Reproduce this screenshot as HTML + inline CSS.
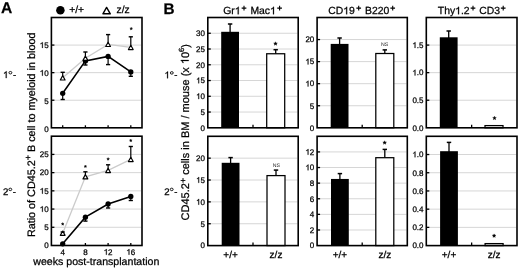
<!DOCTYPE html>
<html><head><meta charset="utf-8"><style>
html,body{margin:0;padding:0;background:#fff;}
svg{display:block;will-change:transform;}
text{font-family:"Liberation Sans", sans-serif;fill:#000;text-rendering:geometricPrecision;stroke:#000;stroke-width:0.25px;}
.one{fill:none;stroke:none;}
</style></head><body>
<svg width="520" height="268" viewBox="0 0 520 268" font-family='"Liberation Sans", sans-serif'>
<rect width="520" height="268" fill="#fff"/>
<text x="1.0" y="12.9" font-size="15.6" font-weight="bold">A</text>
<text x="163.4" y="13.8" font-size="15.3" font-weight="bold">B</text>
<circle cx="60.4" cy="10.2" r="4.25" fill="#000"/>
<text x="69.2" y="12.6" font-size="10.3">+/+</text>
<path d="M106.6 7.40 L110.30 13.80 L102.90 13.80 Z" fill="#fff" stroke="#000" stroke-width="1.4" stroke-linejoin="round"/>
<text x="116.6" y="12.6" font-size="10.3">z/z</text>
<text x="48.6" y="131.60" font-size="8" text-anchor="end">0</text>
<line x1="52.199999999999996" y1="100.22" x2="141.2" y2="100.22" stroke="#d6d6d6" stroke-width="1"/>
<line x1="51.4" y1="100.22" x2="54.4" y2="100.22" stroke="#000" stroke-width="1.3"/>
<text x="48.6" y="103.52" font-size="8" text-anchor="end">5</text>
<line x1="52.199999999999996" y1="72.65" x2="141.2" y2="72.65" stroke="#d6d6d6" stroke-width="1"/>
<line x1="51.4" y1="72.65" x2="54.4" y2="72.65" stroke="#000" stroke-width="1.3"/>
<text x="48.6" y="75.65" font-size="8" text-anchor="end"><tspan class="one">1</tspan>0</text>
<line x1="52.199999999999996" y1="45.08" x2="141.2" y2="45.08" stroke="#d6d6d6" stroke-width="1"/>
<line x1="51.4" y1="45.08" x2="54.4" y2="45.08" stroke="#000" stroke-width="1.3"/>
<text x="48.6" y="47.88" font-size="8" text-anchor="end"><tspan class="one">1</tspan>5</text>
<line x1="62.7" y1="127.8" x2="62.7" y2="125.3" stroke="#000" stroke-width="1.3"/>
<line x1="85.4" y1="127.8" x2="85.4" y2="125.3" stroke="#000" stroke-width="1.3"/>
<line x1="108.1" y1="127.8" x2="108.1" y2="125.3" stroke="#000" stroke-width="1.3"/>
<line x1="130.8" y1="127.8" x2="130.8" y2="125.3" stroke="#000" stroke-width="1.3"/>
<polyline points="62.7,77.8 85.4,58.2 108.1,44.35 130.8,47.4" fill="none" stroke="#cbcbcb" stroke-width="1.3"/>
<polyline points="62.7,93.3 85.4,60.9 108.1,56.4 130.8,71.9" fill="none" stroke="#000" stroke-width="1.55"/>
<line x1="62.7" y1="93.3" x2="62.7" y2="99.5" stroke="#000" stroke-width="1.2"/>
<line x1="60.6" y1="99.5" x2="64.8" y2="99.5" stroke="#000" stroke-width="1.4"/>
<line x1="85.4" y1="60.9" x2="85.4" y2="65.0" stroke="#000" stroke-width="1.2"/>
<line x1="83.30000000000001" y1="65.0" x2="87.5" y2="65.0" stroke="#000" stroke-width="1.4"/>
<line x1="108.1" y1="56.4" x2="108.1" y2="64.6" stroke="#000" stroke-width="1.2"/>
<line x1="106.0" y1="64.6" x2="110.19999999999999" y2="64.6" stroke="#000" stroke-width="1.4"/>
<line x1="130.8" y1="71.9" x2="130.8" y2="76.3" stroke="#000" stroke-width="1.2"/>
<line x1="128.70000000000002" y1="76.3" x2="132.9" y2="76.3" stroke="#000" stroke-width="1.4"/>
<line x1="62.7" y1="77.8" x2="62.7" y2="72.3" stroke="#000" stroke-width="1.2"/>
<line x1="60.6" y1="72.3" x2="64.8" y2="72.3" stroke="#000" stroke-width="1.4"/>
<line x1="85.4" y1="58.2" x2="85.4" y2="52.0" stroke="#000" stroke-width="1.2"/>
<line x1="83.30000000000001" y1="52.0" x2="87.5" y2="52.0" stroke="#000" stroke-width="1.4"/>
<line x1="108.1" y1="44.35" x2="108.1" y2="34.6" stroke="#000" stroke-width="1.2"/>
<line x1="106.0" y1="34.6" x2="110.19999999999999" y2="34.6" stroke="#000" stroke-width="1.4"/>
<line x1="130.8" y1="47.4" x2="130.8" y2="36.8" stroke="#000" stroke-width="1.2"/>
<line x1="128.70000000000002" y1="36.8" x2="132.9" y2="36.8" stroke="#000" stroke-width="1.4"/>
<circle cx="62.7" cy="93.3" r="2.65" fill="#000"/>
<circle cx="85.4" cy="60.9" r="2.65" fill="#000"/>
<circle cx="108.1" cy="56.4" r="2.65" fill="#000"/>
<circle cx="130.8" cy="71.9" r="2.65" fill="#000"/>
<path d="M62.7 75.65 L65.10 79.95 L60.30 79.95 Z" fill="#fff" stroke="#000" stroke-width="1.15" stroke-linejoin="round"/>
<path d="M85.4 56.05 L87.80 60.35 L83.00 60.35 Z" fill="#fff" stroke="#000" stroke-width="1.15" stroke-linejoin="round"/>
<path d="M108.1 42.20 L110.50 46.50 L105.70 46.50 Z" fill="#fff" stroke="#000" stroke-width="1.15" stroke-linejoin="round"/>
<path d="M130.8 45.25 L133.20 49.55 L128.40 49.55 Z" fill="#fff" stroke="#000" stroke-width="1.15" stroke-linejoin="round"/>
<polygon points="131.20,27.30 131.57,28.19 132.53,28.27 131.80,28.89 132.02,29.83 131.20,29.33 130.38,29.83 130.60,28.89 129.87,28.27 130.83,28.19" fill="#000" stroke="#000" stroke-width="0.4" stroke-linejoin="round"/>
<text x="3.0" y="78.1" font-size="9.6"><tspan class="one">1</tspan></text>
<ellipse cx="10.40" cy="72.70" rx="1.45" ry="1.25" fill="none" stroke="#000" stroke-width="0.9"/>
<text x="12.90" y="78.1" font-size="9.6">-</text>
<text x="48.6" y="248.30" font-size="8" text-anchor="end">0</text>
<line x1="52.199999999999996" y1="227.28" x2="141.2" y2="227.28" stroke="#d6d6d6" stroke-width="1"/>
<line x1="51.4" y1="227.28" x2="54.4" y2="227.28" stroke="#000" stroke-width="1.3"/>
<text x="48.6" y="230.08" font-size="8" text-anchor="end">5</text>
<line x1="52.199999999999996" y1="209.07" x2="141.2" y2="209.07" stroke="#d6d6d6" stroke-width="1"/>
<line x1="51.4" y1="209.07" x2="54.4" y2="209.07" stroke="#000" stroke-width="1.3"/>
<text x="48.6" y="211.87" font-size="8" text-anchor="end"><tspan class="one">1</tspan>0</text>
<line x1="52.199999999999996" y1="190.85" x2="141.2" y2="190.85" stroke="#d6d6d6" stroke-width="1"/>
<line x1="51.4" y1="190.85" x2="54.4" y2="190.85" stroke="#000" stroke-width="1.3"/>
<text x="48.6" y="193.65" font-size="8" text-anchor="end"><tspan class="one">1</tspan>5</text>
<line x1="52.199999999999996" y1="172.63" x2="141.2" y2="172.63" stroke="#d6d6d6" stroke-width="1"/>
<line x1="51.4" y1="172.63" x2="54.4" y2="172.63" stroke="#000" stroke-width="1.3"/>
<text x="48.6" y="175.43" font-size="8" text-anchor="end">20</text>
<line x1="52.199999999999996" y1="154.42" x2="141.2" y2="154.42" stroke="#d6d6d6" stroke-width="1"/>
<line x1="51.4" y1="154.42" x2="54.4" y2="154.42" stroke="#000" stroke-width="1.3"/>
<text x="48.6" y="157.22" font-size="8" text-anchor="end">25</text>
<line x1="62.7" y1="245.5" x2="62.7" y2="243.0" stroke="#000" stroke-width="1.3"/>
<line x1="85.4" y1="245.5" x2="85.4" y2="243.0" stroke="#000" stroke-width="1.3"/>
<line x1="108.1" y1="245.5" x2="108.1" y2="243.0" stroke="#000" stroke-width="1.3"/>
<line x1="130.8" y1="245.5" x2="130.8" y2="243.0" stroke="#000" stroke-width="1.3"/>
<polyline points="62.7,233.2 85.4,176.75 108.1,170.45 130.8,159.4" fill="none" stroke="#cbcbcb" stroke-width="1.3"/>
<polyline points="62.7,243.8 85.4,217.2 108.1,204.0 130.8,196.4" fill="none" stroke="#000" stroke-width="1.55"/>
<line x1="62.7" y1="243.8" x2="62.7" y2="244.5" stroke="#000" stroke-width="1.2"/>
<line x1="60.6" y1="244.5" x2="64.8" y2="244.5" stroke="#000" stroke-width="1.4"/>
<line x1="85.4" y1="217.2" x2="85.4" y2="221.1" stroke="#000" stroke-width="1.2"/>
<line x1="83.30000000000001" y1="221.1" x2="87.5" y2="221.1" stroke="#000" stroke-width="1.4"/>
<line x1="108.1" y1="204.0" x2="108.1" y2="208.0" stroke="#000" stroke-width="1.2"/>
<line x1="106.0" y1="208.0" x2="110.19999999999999" y2="208.0" stroke="#000" stroke-width="1.4"/>
<line x1="130.8" y1="196.4" x2="130.8" y2="200.5" stroke="#000" stroke-width="1.2"/>
<line x1="128.70000000000002" y1="200.5" x2="132.9" y2="200.5" stroke="#000" stroke-width="1.4"/>
<line x1="62.7" y1="233.2" x2="62.7" y2="232.0" stroke="#000" stroke-width="1.2"/>
<line x1="60.6" y1="232.0" x2="64.8" y2="232.0" stroke="#000" stroke-width="1.4"/>
<line x1="85.4" y1="176.75" x2="85.4" y2="171.8" stroke="#000" stroke-width="1.2"/>
<line x1="83.30000000000001" y1="171.8" x2="87.5" y2="171.8" stroke="#000" stroke-width="1.4"/>
<line x1="108.1" y1="170.45" x2="108.1" y2="164.8" stroke="#000" stroke-width="1.2"/>
<line x1="106.0" y1="164.8" x2="110.19999999999999" y2="164.8" stroke="#000" stroke-width="1.4"/>
<line x1="130.8" y1="159.4" x2="130.8" y2="146.5" stroke="#000" stroke-width="1.2"/>
<line x1="128.70000000000002" y1="146.5" x2="132.9" y2="146.5" stroke="#000" stroke-width="1.4"/>
<circle cx="62.7" cy="243.8" r="2.65" fill="#000"/>
<circle cx="85.4" cy="217.2" r="2.65" fill="#000"/>
<circle cx="108.1" cy="204.0" r="2.65" fill="#000"/>
<circle cx="130.8" cy="196.4" r="2.65" fill="#000"/>
<path d="M62.7 231.05 L65.10 235.35 L60.30 235.35 Z" fill="#fff" stroke="#000" stroke-width="1.15" stroke-linejoin="round"/>
<path d="M85.4 174.60 L87.80 178.90 L83.00 178.90 Z" fill="#fff" stroke="#000" stroke-width="1.15" stroke-linejoin="round"/>
<path d="M108.1 168.30 L110.50 172.60 L105.70 172.60 Z" fill="#fff" stroke="#000" stroke-width="1.15" stroke-linejoin="round"/>
<path d="M130.8 157.25 L133.20 161.55 L128.40 161.55 Z" fill="#fff" stroke="#000" stroke-width="1.15" stroke-linejoin="round"/>
<polygon points="62.70,222.60 63.07,223.49 64.03,223.57 63.30,224.19 63.52,225.13 62.70,224.63 61.88,225.13 62.10,224.19 61.37,223.57 62.33,223.49" fill="#000" stroke="#000" stroke-width="0.4" stroke-linejoin="round"/>
<polygon points="85.40,165.00 85.77,165.89 86.73,165.97 86.00,166.59 86.22,167.53 85.40,167.03 84.58,167.53 84.80,166.59 84.07,165.97 85.03,165.89" fill="#000" stroke="#000" stroke-width="0.4" stroke-linejoin="round"/>
<polygon points="108.10,157.60 108.47,158.49 109.43,158.57 108.70,159.19 108.92,160.13 108.10,159.63 107.28,160.13 107.50,159.19 106.77,158.57 107.73,158.49" fill="#000" stroke="#000" stroke-width="0.4" stroke-linejoin="round"/>
<polygon points="130.80,139.10 131.17,139.99 132.13,140.07 131.40,140.69 131.62,141.63 130.80,141.13 129.98,141.63 130.20,140.69 129.47,140.07 130.43,139.99" fill="#000" stroke="#000" stroke-width="0.4" stroke-linejoin="round"/>
<text x="2.9" y="194.8" font-size="9.6">2</text>
<ellipse cx="10.30" cy="189.40" rx="1.45" ry="1.25" fill="none" stroke="#000" stroke-width="0.9"/>
<text x="12.80" y="194.8" font-size="9.6">-</text>
<text x="62.7" y="254.7" font-size="8" text-anchor="middle">4</text>
<text x="85.4" y="254.7" font-size="8" text-anchor="middle">8</text>
<text x="108.1" y="254.7" font-size="8" text-anchor="middle"><tspan class="one">1</tspan>2</text>
<text x="130.8" y="254.7" font-size="8" text-anchor="middle"><tspan class="one">1</tspan>6</text>
<text x="96.3" y="264.5" font-size="10.6" text-anchor="middle">weeks post-transplantation</text>
<text transform="translate(34.6,237.1) rotate(-90)" font-size="10.8">Ratio of CD45.2<tspan font-size="9" dy="-3.2">+</tspan><tspan dy="3.2"> B cell to myeloid in blood</tspan></text>
<rect x="51.4" y="17.5" width="90.60" height="110.30" fill="none" stroke="#000" stroke-width="1.6"/>
<rect x="51.4" y="136.2" width="90.60" height="109.30" fill="none" stroke="#000" stroke-width="1.6"/>
<text x="205.0" y="130.60" font-size="8" text-anchor="end">0</text>
<line x1="208.60000000000002" y1="112.04" x2="297.4" y2="112.04" stroke="#d6d6d6" stroke-width="1"/>
<line x1="207.8" y1="112.04" x2="210.8" y2="112.04" stroke="#000" stroke-width="1.3"/>
<text x="205.0" y="114.84" font-size="8" text-anchor="end">5</text>
<line x1="208.60000000000002" y1="96.29" x2="297.4" y2="96.29" stroke="#d6d6d6" stroke-width="1"/>
<line x1="207.8" y1="96.29" x2="210.8" y2="96.29" stroke="#000" stroke-width="1.3"/>
<text x="205.0" y="99.09" font-size="8" text-anchor="end"><tspan class="one">1</tspan>0</text>
<line x1="208.60000000000002" y1="80.53" x2="297.4" y2="80.53" stroke="#d6d6d6" stroke-width="1"/>
<line x1="207.8" y1="80.53" x2="210.8" y2="80.53" stroke="#000" stroke-width="1.3"/>
<text x="205.0" y="83.33" font-size="8" text-anchor="end"><tspan class="one">1</tspan>5</text>
<line x1="208.60000000000002" y1="64.77" x2="297.4" y2="64.77" stroke="#d6d6d6" stroke-width="1"/>
<line x1="207.8" y1="64.77" x2="210.8" y2="64.77" stroke="#000" stroke-width="1.3"/>
<text x="205.0" y="67.57" font-size="8" text-anchor="end">20</text>
<line x1="208.60000000000002" y1="49.01" x2="297.4" y2="49.01" stroke="#d6d6d6" stroke-width="1"/>
<line x1="207.8" y1="49.01" x2="210.8" y2="49.01" stroke="#000" stroke-width="1.3"/>
<text x="205.0" y="51.81" font-size="8" text-anchor="end">25</text>
<line x1="208.60000000000002" y1="33.26" x2="297.4" y2="33.26" stroke="#d6d6d6" stroke-width="1"/>
<line x1="207.8" y1="33.26" x2="210.8" y2="33.26" stroke="#000" stroke-width="1.3"/>
<text x="205.0" y="36.06" font-size="8" text-anchor="end">30</text>
<line x1="253.0" y1="127.8" x2="253.0" y2="124.8" stroke="#000" stroke-width="1.3"/>
<line x1="230.1" y1="32.8" x2="230.1" y2="24.0" stroke="#000" stroke-width="1.3"/>
<line x1="227.9" y1="24.0" x2="232.29999999999998" y2="24.0" stroke="#000" stroke-width="1.5"/>
<rect x="221.20" y="31.8" width="17.8" height="96.00" fill="#000"/>
<line x1="275.7" y1="53.75" x2="275.7" y2="49.7" stroke="#000" stroke-width="1.3"/>
<line x1="273.5" y1="49.7" x2="277.9" y2="49.7" stroke="#000" stroke-width="1.5"/>
<rect x="266.70" y="53.75" width="18.0" height="74.05" fill="#fff" stroke="#000" stroke-width="1.25"/>
<polygon points="275.50,41.80 276.00,43.01 277.31,43.11 276.31,43.96 276.62,45.24 275.50,44.55 274.38,45.24 274.69,43.96 273.69,43.11 275.00,43.01" fill="#000" stroke="#000" stroke-width="0.4" stroke-linejoin="round"/>
<rect x="207.8" y="17.5" width="90.40" height="110.30" fill="none" stroke="#000" stroke-width="1.6"/>
<text x="205.0" y="248.40" font-size="8" text-anchor="end">0</text>
<line x1="208.60000000000002" y1="223.74" x2="297.4" y2="223.74" stroke="#d6d6d6" stroke-width="1"/>
<line x1="207.8" y1="223.74" x2="210.8" y2="223.74" stroke="#000" stroke-width="1.3"/>
<text x="205.0" y="226.54" font-size="8" text-anchor="end">5</text>
<line x1="208.60000000000002" y1="201.88" x2="297.4" y2="201.88" stroke="#d6d6d6" stroke-width="1"/>
<line x1="207.8" y1="201.88" x2="210.8" y2="201.88" stroke="#000" stroke-width="1.3"/>
<text x="205.0" y="204.68" font-size="8" text-anchor="end"><tspan class="one">1</tspan>0</text>
<line x1="208.60000000000002" y1="180.02" x2="297.4" y2="180.02" stroke="#d6d6d6" stroke-width="1"/>
<line x1="207.8" y1="180.02" x2="210.8" y2="180.02" stroke="#000" stroke-width="1.3"/>
<text x="205.0" y="182.82" font-size="8" text-anchor="end"><tspan class="one">1</tspan>5</text>
<line x1="208.60000000000002" y1="158.16" x2="297.4" y2="158.16" stroke="#d6d6d6" stroke-width="1"/>
<line x1="207.8" y1="158.16" x2="210.8" y2="158.16" stroke="#000" stroke-width="1.3"/>
<text x="205.0" y="160.96" font-size="8" text-anchor="end">20</text>
<line x1="253.0" y1="245.6" x2="253.0" y2="242.6" stroke="#000" stroke-width="1.3"/>
<line x1="230.6" y1="163.8" x2="230.6" y2="157.6" stroke="#000" stroke-width="1.3"/>
<line x1="228.4" y1="157.6" x2="232.79999999999998" y2="157.6" stroke="#000" stroke-width="1.5"/>
<rect x="221.70" y="162.8" width="17.8" height="82.80" fill="#000"/>
<line x1="276.0" y1="175.6" x2="276.0" y2="170.1" stroke="#000" stroke-width="1.3"/>
<line x1="273.8" y1="170.1" x2="278.2" y2="170.1" stroke="#000" stroke-width="1.5"/>
<rect x="267.00" y="175.6" width="18.0" height="70.00" fill="#fff" stroke="#000" stroke-width="1.25"/>
<text x="276.3" y="166.54" font-size="5.2" text-anchor="middle" style="stroke:none;fill:#222">NS</text>
<rect x="207.8" y="136.3" width="90.40" height="109.30" fill="none" stroke="#000" stroke-width="1.6"/>
<text x="223.2" y="14.3" font-size="10.4">Gr<tspan class="one">1</tspan></text>
<path d="M241.65 8.10H246.35M244.00 5.75V10.45" stroke="#000" stroke-width="1.1" fill="none"/>
<text x="250.4" y="14.3" font-size="10.4">Mac<tspan class="one">1</tspan></text>
<path d="M277.25 8.10H281.95M279.60 5.75V10.45" stroke="#000" stroke-width="1.1" fill="none"/>
<text x="230.6" y="257.6" font-size="10" text-anchor="middle">+/+</text>
<text x="276.0" y="257.8" font-size="10" text-anchor="middle">z/z</text>
<text x="314.3" y="130.60" font-size="8" text-anchor="end">0</text>
<line x1="317.90000000000003" y1="105.74" x2="406.5" y2="105.74" stroke="#d6d6d6" stroke-width="1"/>
<line x1="317.1" y1="105.74" x2="320.1" y2="105.74" stroke="#000" stroke-width="1.3"/>
<text x="314.3" y="108.54" font-size="8" text-anchor="end">5</text>
<line x1="317.90000000000003" y1="83.68" x2="406.5" y2="83.68" stroke="#d6d6d6" stroke-width="1"/>
<line x1="317.1" y1="83.68" x2="320.1" y2="83.68" stroke="#000" stroke-width="1.3"/>
<text x="314.3" y="86.48" font-size="8" text-anchor="end"><tspan class="one">1</tspan>0</text>
<line x1="317.90000000000003" y1="61.62" x2="406.5" y2="61.62" stroke="#d6d6d6" stroke-width="1"/>
<line x1="317.1" y1="61.62" x2="320.1" y2="61.62" stroke="#000" stroke-width="1.3"/>
<text x="314.3" y="64.42" font-size="8" text-anchor="end"><tspan class="one">1</tspan>5</text>
<line x1="317.90000000000003" y1="39.56" x2="406.5" y2="39.56" stroke="#d6d6d6" stroke-width="1"/>
<line x1="317.1" y1="39.56" x2="320.1" y2="39.56" stroke="#000" stroke-width="1.3"/>
<text x="314.3" y="42.36" font-size="8" text-anchor="end">20</text>
<line x1="362.20000000000005" y1="127.8" x2="362.20000000000005" y2="124.8" stroke="#000" stroke-width="1.3"/>
<line x1="339.6" y1="44.9" x2="339.6" y2="38.0" stroke="#000" stroke-width="1.3"/>
<line x1="337.40000000000003" y1="38.0" x2="341.8" y2="38.0" stroke="#000" stroke-width="1.5"/>
<rect x="330.70" y="43.9" width="17.8" height="83.90" fill="#000"/>
<line x1="384.8" y1="53.5" x2="384.8" y2="49.9" stroke="#000" stroke-width="1.3"/>
<line x1="382.6" y1="49.9" x2="387.0" y2="49.9" stroke="#000" stroke-width="1.5"/>
<rect x="375.80" y="53.5" width="18.0" height="74.30" fill="#fff" stroke="#000" stroke-width="1.25"/>
<text x="384.65" y="45.59" font-size="5.2" text-anchor="middle" style="stroke:none;fill:#222">NS</text>
<rect x="317.1" y="17.5" width="90.20" height="110.30" fill="none" stroke="#000" stroke-width="1.6"/>
<text x="314.3" y="248.40" font-size="8" text-anchor="end">0</text>
<line x1="317.90000000000003" y1="229.99" x2="406.5" y2="229.99" stroke="#d6d6d6" stroke-width="1"/>
<line x1="317.1" y1="229.99" x2="320.1" y2="229.99" stroke="#000" stroke-width="1.3"/>
<text x="314.3" y="232.79" font-size="8" text-anchor="end">2</text>
<line x1="317.90000000000003" y1="214.37" x2="406.5" y2="214.37" stroke="#d6d6d6" stroke-width="1"/>
<line x1="317.1" y1="214.37" x2="320.1" y2="214.37" stroke="#000" stroke-width="1.3"/>
<text x="314.3" y="217.17" font-size="8" text-anchor="end">4</text>
<line x1="317.90000000000003" y1="198.76" x2="406.5" y2="198.76" stroke="#d6d6d6" stroke-width="1"/>
<line x1="317.1" y1="198.76" x2="320.1" y2="198.76" stroke="#000" stroke-width="1.3"/>
<text x="314.3" y="201.56" font-size="8" text-anchor="end">6</text>
<line x1="317.90000000000003" y1="183.14" x2="406.5" y2="183.14" stroke="#d6d6d6" stroke-width="1"/>
<line x1="317.1" y1="183.14" x2="320.1" y2="183.14" stroke="#000" stroke-width="1.3"/>
<text x="314.3" y="185.94" font-size="8" text-anchor="end">8</text>
<line x1="317.90000000000003" y1="167.53" x2="406.5" y2="167.53" stroke="#d6d6d6" stroke-width="1"/>
<line x1="317.1" y1="167.53" x2="320.1" y2="167.53" stroke="#000" stroke-width="1.3"/>
<text x="314.3" y="170.33" font-size="8" text-anchor="end"><tspan class="one">1</tspan>0</text>
<line x1="317.90000000000003" y1="151.91" x2="406.5" y2="151.91" stroke="#d6d6d6" stroke-width="1"/>
<line x1="317.1" y1="151.91" x2="320.1" y2="151.91" stroke="#000" stroke-width="1.3"/>
<text x="314.3" y="154.71" font-size="8" text-anchor="end"><tspan class="one">1</tspan>2</text>
<line x1="362.20000000000005" y1="245.6" x2="362.20000000000005" y2="242.6" stroke="#000" stroke-width="1.3"/>
<line x1="339.9" y1="179.95" x2="339.9" y2="173.6" stroke="#000" stroke-width="1.3"/>
<line x1="337.7" y1="173.6" x2="342.09999999999997" y2="173.6" stroke="#000" stroke-width="1.5"/>
<rect x="331.00" y="178.95" width="17.8" height="66.65" fill="#000"/>
<line x1="384.8" y1="157.7" x2="384.8" y2="149.4" stroke="#000" stroke-width="1.3"/>
<line x1="382.6" y1="149.4" x2="387.0" y2="149.4" stroke="#000" stroke-width="1.5"/>
<rect x="375.80" y="157.7" width="18.0" height="87.90" fill="#fff" stroke="#000" stroke-width="1.25"/>
<polygon points="384.65,140.80 385.15,142.01 386.46,142.11 385.46,142.96 385.77,144.24 384.65,143.55 383.53,144.24 383.84,142.96 382.84,142.11 384.15,142.01" fill="#000" stroke="#000" stroke-width="0.4" stroke-linejoin="round"/>
<rect x="317.1" y="136.3" width="90.20" height="109.30" fill="none" stroke="#000" stroke-width="1.6"/>
<text x="328.2" y="14.3" font-size="10.4">CD<tspan class="one">1</tspan>9</text>
<path d="M356.35 8.10H361.05M358.70 5.75V10.45" stroke="#000" stroke-width="1.1" fill="none"/>
<text x="365.1" y="14.3" font-size="10.4">B220</text>
<path d="M390.35 8.10H395.05M392.70 5.75V10.45" stroke="#000" stroke-width="1.1" fill="none"/>
<text x="339.9" y="257.6" font-size="10" text-anchor="middle">+/+</text>
<text x="384.8" y="257.8" font-size="10" text-anchor="middle">z/z</text>
<text x="423.5" y="130.60" font-size="8" text-anchor="end">0.0</text>
<line x1="427.1" y1="100.22" x2="516.2" y2="100.22" stroke="#d6d6d6" stroke-width="1"/>
<line x1="426.3" y1="100.22" x2="429.3" y2="100.22" stroke="#000" stroke-width="1.3"/>
<text x="423.5" y="103.02" font-size="8" text-anchor="end">0.5</text>
<line x1="427.1" y1="72.65" x2="516.2" y2="72.65" stroke="#d6d6d6" stroke-width="1"/>
<line x1="426.3" y1="72.65" x2="429.3" y2="72.65" stroke="#000" stroke-width="1.3"/>
<text x="423.5" y="75.45" font-size="8" text-anchor="end"><tspan class="one">1</tspan>.0</text>
<line x1="427.1" y1="45.08" x2="516.2" y2="45.08" stroke="#d6d6d6" stroke-width="1"/>
<line x1="426.3" y1="45.08" x2="429.3" y2="45.08" stroke="#000" stroke-width="1.3"/>
<text x="423.5" y="47.88" font-size="8" text-anchor="end"><tspan class="one">1</tspan>.5</text>
<line x1="471.65" y1="127.8" x2="471.65" y2="124.8" stroke="#000" stroke-width="1.3"/>
<line x1="448.7" y1="38.3" x2="448.7" y2="31.0" stroke="#000" stroke-width="1.3"/>
<line x1="446.5" y1="31.0" x2="450.9" y2="31.0" stroke="#000" stroke-width="1.5"/>
<rect x="439.80" y="37.3" width="17.8" height="90.50" fill="#000"/>
<rect x="485.00" y="125.6" width="18.0" height="2.20" fill="#fff" stroke="#000" stroke-width="1.25"/>
<polygon points="494.50,116.20 495.00,117.41 496.31,117.51 495.31,118.36 495.62,119.64 494.50,118.95 493.38,119.64 493.69,118.36 492.69,117.51 494.00,117.41" fill="#000" stroke="#000" stroke-width="0.4" stroke-linejoin="round"/>
<rect x="426.3" y="17.5" width="90.70" height="110.30" fill="none" stroke="#000" stroke-width="1.6"/>
<text x="423.5" y="248.40" font-size="8" text-anchor="end">0.0</text>
<line x1="427.1" y1="227.38" x2="516.2" y2="227.38" stroke="#d6d6d6" stroke-width="1"/>
<line x1="426.3" y1="227.38" x2="429.3" y2="227.38" stroke="#000" stroke-width="1.3"/>
<text x="423.5" y="230.18" font-size="8" text-anchor="end">0.2</text>
<line x1="427.1" y1="209.17" x2="516.2" y2="209.17" stroke="#d6d6d6" stroke-width="1"/>
<line x1="426.3" y1="209.17" x2="429.3" y2="209.17" stroke="#000" stroke-width="1.3"/>
<text x="423.5" y="211.97" font-size="8" text-anchor="end">0.4</text>
<line x1="427.1" y1="190.95" x2="516.2" y2="190.95" stroke="#d6d6d6" stroke-width="1"/>
<line x1="426.3" y1="190.95" x2="429.3" y2="190.95" stroke="#000" stroke-width="1.3"/>
<text x="423.5" y="193.75" font-size="8" text-anchor="end">0.6</text>
<line x1="427.1" y1="172.73" x2="516.2" y2="172.73" stroke="#d6d6d6" stroke-width="1"/>
<line x1="426.3" y1="172.73" x2="429.3" y2="172.73" stroke="#000" stroke-width="1.3"/>
<text x="423.5" y="175.53" font-size="8" text-anchor="end">0.8</text>
<line x1="427.1" y1="154.52" x2="516.2" y2="154.52" stroke="#d6d6d6" stroke-width="1"/>
<line x1="426.3" y1="154.52" x2="429.3" y2="154.52" stroke="#000" stroke-width="1.3"/>
<text x="423.5" y="157.32" font-size="8" text-anchor="end"><tspan class="one">1</tspan>.0</text>
<line x1="471.65" y1="245.6" x2="471.65" y2="242.6" stroke="#000" stroke-width="1.3"/>
<line x1="449.0" y1="152.2" x2="449.0" y2="142.4" stroke="#000" stroke-width="1.3"/>
<line x1="446.8" y1="142.4" x2="451.2" y2="142.4" stroke="#000" stroke-width="1.5"/>
<rect x="440.10" y="151.2" width="17.8" height="94.40" fill="#000"/>
<rect x="485.10" y="243.6" width="18.0" height="2.00" fill="#fff" stroke="#000" stroke-width="1.25"/>
<polygon points="494.10,233.90 494.60,235.11 495.91,235.21 494.91,236.06 495.22,237.34 494.10,236.66 492.98,237.34 493.29,236.06 492.29,235.21 493.60,235.11" fill="#000" stroke="#000" stroke-width="0.4" stroke-linejoin="round"/>
<rect x="426.3" y="136.3" width="90.70" height="109.30" fill="none" stroke="#000" stroke-width="1.6"/>
<text x="437.8" y="14.3" font-size="10.4">Thy<tspan class="one">1</tspan>.2</text>
<path d="M470.65 8.10H475.35M473.00 5.75V10.45" stroke="#000" stroke-width="1.1" fill="none"/>
<text x="479.2" y="14.3" font-size="10.4">CD3</text>
<path d="M500.85 8.10H505.55M503.20 5.75V10.45" stroke="#000" stroke-width="1.1" fill="none"/>
<text x="449.0" y="257.6" font-size="10" text-anchor="middle">+/+</text>
<text x="494.1" y="257.8" font-size="10" text-anchor="middle">z/z</text>
<text x="164.4" y="78.3" font-size="9.6"><tspan class="one">1</tspan></text>
<ellipse cx="171.80" cy="72.90" rx="1.45" ry="1.25" fill="none" stroke="#000" stroke-width="0.9"/>
<text x="174.30" y="78.3" font-size="9.6">-</text>
<text x="164.3" y="194.8" font-size="9.6">2</text>
<ellipse cx="171.70" cy="189.40" rx="1.45" ry="1.25" fill="none" stroke="#000" stroke-width="0.9"/>
<text x="174.20" y="194.8" font-size="9.6">-</text>
<text transform="translate(188.7,220.4) rotate(-90)" font-size="11">CD45.2<tspan font-size="9" dy="-2.7">+</tspan><tspan dy="2.7"> cells in BM / mouse (x <tspan class="one">1</tspan>0</tspan><tspan font-size="7.5" dy="-4.6">6</tspan><tspan dy="4.6">)</tspan></text>
<path d="M42.702 75.650 L42.702 69.922 L42.238 69.922 L42.078 70.242 L41.710 70.594 L41.166 70.978 L40.558 71.282 L40.558 71.954 L41.070 71.730 L41.614 71.410 L41.990 71.122 L41.990 75.650Z" fill="#000" stroke="#000" stroke-width="0.25"/>
<path d="M42.702 47.880 L42.702 42.152 L42.238 42.152 L42.078 42.472 L41.710 42.824 L41.166 43.208 L40.558 43.512 L40.558 44.184 L41.070 43.960 L41.614 43.640 L41.990 43.352 L41.990 47.880Z" fill="#000" stroke="#000" stroke-width="0.25"/>
<path d="M6.610 78.100 L6.610 71.226 L6.053 71.226 L5.861 71.610 L5.419 72.033 L4.766 72.494 L4.037 72.858 L4.037 73.665 L4.651 73.396 L5.304 73.012 L5.755 72.666 L5.755 78.100Z" fill="#000" stroke="#000" stroke-width="0.25"/>
<path d="M42.702 211.870 L42.702 206.142 L42.238 206.142 L42.078 206.462 L41.710 206.814 L41.166 207.198 L40.558 207.502 L40.558 208.174 L41.070 207.950 L41.614 207.630 L41.990 207.342 L41.990 211.870Z" fill="#000" stroke="#000" stroke-width="0.25"/>
<path d="M42.702 193.650 L42.702 187.922 L42.238 187.922 L42.078 188.242 L41.710 188.594 L41.166 188.978 L40.558 189.282 L40.558 189.954 L41.070 189.730 L41.614 189.410 L41.990 189.122 L41.990 193.650Z" fill="#000" stroke="#000" stroke-width="0.25"/>
<path d="M106.655 254.700 L106.655 248.972 L106.191 248.972 L106.031 249.292 L105.663 249.644 L105.119 250.028 L104.511 250.332 L104.511 251.004 L105.023 250.780 L105.567 250.460 L105.943 250.172 L105.943 254.700Z" fill="#000" stroke="#000" stroke-width="0.25"/>
<path d="M129.355 254.700 L129.355 248.972 L128.891 248.972 L128.731 249.292 L128.363 249.644 L127.819 250.028 L127.211 250.332 L127.211 251.004 L127.723 250.780 L128.267 250.460 L128.643 250.172 L128.643 254.700Z" fill="#000" stroke="#000" stroke-width="0.25"/>
<path d="M199.102 99.090 L199.102 93.362 L198.638 93.362 L198.478 93.682 L198.110 94.034 L197.566 94.418 L196.958 94.722 L196.958 95.394 L197.470 95.170 L198.014 94.850 L198.390 94.562 L198.390 99.090Z" fill="#000" stroke="#000" stroke-width="0.25"/>
<path d="M199.102 83.330 L199.102 77.602 L198.638 77.602 L198.478 77.922 L198.110 78.274 L197.566 78.658 L196.958 78.962 L196.958 79.634 L197.470 79.410 L198.014 79.090 L198.390 78.802 L198.390 83.330Z" fill="#000" stroke="#000" stroke-width="0.25"/>
<path d="M199.102 204.680 L199.102 198.952 L198.638 198.952 L198.478 199.272 L198.110 199.624 L197.566 200.008 L196.958 200.312 L196.958 200.984 L197.470 200.760 L198.014 200.440 L198.390 200.152 L198.390 204.680Z" fill="#000" stroke="#000" stroke-width="0.25"/>
<path d="M199.102 182.820 L199.102 177.092 L198.638 177.092 L198.478 177.412 L198.110 177.764 L197.566 178.148 L196.958 178.452 L196.958 179.124 L197.470 178.900 L198.014 178.580 L198.390 178.292 L198.390 182.820Z" fill="#000" stroke="#000" stroke-width="0.25"/>
<path d="M238.657 14.300 L238.657 6.854 L238.054 6.854 L237.846 7.270 L237.368 7.727 L236.660 8.226 L235.870 8.622 L235.870 9.495 L236.536 9.204 L237.243 8.788 L237.732 8.414 L237.732 14.300Z" fill="#000" stroke="#000" stroke-width="0.25"/>
<path d="M273.951 14.300 L273.951 6.854 L273.348 6.854 L273.140 7.270 L272.661 7.727 L271.954 8.226 L271.164 8.622 L271.164 9.495 L271.829 9.204 L272.537 8.788 L273.025 8.414 L273.025 14.300Z" fill="#000" stroke="#000" stroke-width="0.25"/>
<path d="M308.402 86.480 L308.402 80.752 L307.938 80.752 L307.778 81.072 L307.410 81.424 L306.866 81.808 L306.258 82.112 L306.258 82.784 L306.770 82.560 L307.314 82.240 L307.690 81.952 L307.690 86.480Z" fill="#000" stroke="#000" stroke-width="0.25"/>
<path d="M308.402 64.420 L308.402 58.692 L307.938 58.692 L307.778 59.012 L307.410 59.364 L306.866 59.748 L306.258 60.052 L306.258 60.724 L306.770 60.500 L307.314 60.180 L307.690 59.892 L307.690 64.420Z" fill="#000" stroke="#000" stroke-width="0.25"/>
<path d="M308.402 170.330 L308.402 164.602 L307.938 164.602 L307.778 164.922 L307.410 165.274 L306.866 165.658 L306.258 165.962 L306.258 166.634 L306.770 166.410 L307.314 166.090 L307.690 165.802 L307.690 170.330Z" fill="#000" stroke="#000" stroke-width="0.25"/>
<path d="M308.402 154.710 L308.402 148.982 L307.938 148.982 L307.778 149.302 L307.410 149.654 L306.866 150.038 L306.258 150.342 L306.258 151.014 L306.770 150.790 L307.314 150.470 L307.690 150.182 L307.690 154.710Z" fill="#000" stroke="#000" stroke-width="0.25"/>
<path d="M347.126 14.300 L347.126 6.854 L346.523 6.854 L346.315 7.270 L345.836 7.727 L345.129 8.226 L344.339 8.622 L344.339 9.495 L345.004 9.204 L345.712 8.788 L346.200 8.414 L346.200 14.300Z" fill="#000" stroke="#000" stroke-width="0.25"/>
<path d="M415.383 75.450 L415.383 69.722 L414.919 69.722 L414.759 70.042 L414.391 70.394 L413.847 70.778 L413.239 71.082 L413.239 71.754 L413.751 71.530 L414.295 71.210 L414.671 70.922 L414.671 75.450Z" fill="#000" stroke="#000" stroke-width="0.25"/>
<path d="M415.383 47.880 L415.383 42.152 L414.919 42.152 L414.759 42.472 L414.391 42.824 L413.847 43.208 L413.239 43.512 L413.239 44.184 L413.751 43.960 L414.295 43.640 L414.671 43.352 L414.671 47.880Z" fill="#000" stroke="#000" stroke-width="0.25"/>
<path d="M415.383 157.320 L415.383 151.592 L414.919 151.592 L414.759 151.912 L414.391 152.264 L413.847 152.648 L413.239 152.952 L413.239 153.624 L413.751 153.400 L414.295 153.080 L414.671 152.792 L414.671 157.320Z" fill="#000" stroke="#000" stroke-width="0.25"/>
<path d="M459.039 14.300 L459.039 6.854 L458.435 6.854 L458.227 7.270 L457.749 7.727 L457.042 8.226 L456.251 8.622 L456.251 9.495 L456.917 9.204 L457.624 8.788 L458.113 8.414 L458.113 14.300Z" fill="#000" stroke="#000" stroke-width="0.25"/>
<path d="M168.010 78.300 L168.010 71.426 L167.453 71.426 L167.261 71.810 L166.819 72.233 L166.166 72.694 L165.437 73.058 L165.437 73.865 L166.051 73.596 L166.704 73.212 L167.155 72.866 L167.155 78.300Z" fill="#000" stroke="#000" stroke-width="0.25"/>
<path transform="translate(188.7,220.4) rotate(-90)" d="M160.402 0.000 L160.402 -7.876 L159.764 -7.876 L159.544 -7.436 L159.038 -6.952 L158.290 -6.424 L157.454 -6.006 L157.454 -5.082 L158.158 -5.390 L158.906 -5.830 L159.423 -6.226 L159.423 0.000Z" fill="#000" stroke="#000" stroke-width="0.25"/>
</svg>
</body></html>
